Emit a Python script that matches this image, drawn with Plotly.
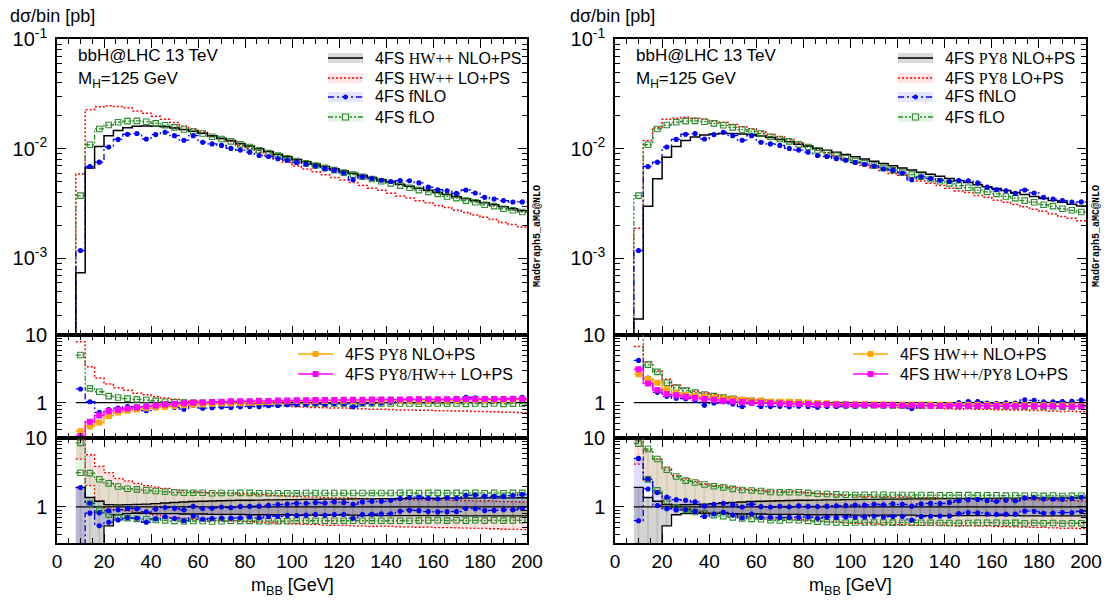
import math
import plotly.graph_objects as go

W, H = 1109, 601

# ---------------- data ----------------
bin_edges = list(range(8, 201, 4))          # 49 edges, 48 bins of 4 GeV
x_ticks = [0, 20, 40, 60, 80, 100, 120, 140, 160, 180, 200]

# d sigma / bin [pb]
hw_nlo = [7.4e-4, 6.7e-3, 1.05e-2, 1.32e-2, 1.47e-2, 1.56e-2, 1.61e-2, 1.62e-2, 1.61e-2, 1.59e-2,
          1.55e-2, 1.50e-2, 1.45e-2, 1.39e-2, 1.32e-2, 1.25e-2, 1.19e-2, 1.12e-2, 1.06e-2, 1.00e-2,
          9.46e-3, 8.95e-3, 8.47e-3, 8.00e-3, 7.62e-3, 7.26e-3, 6.92e-3, 6.59e-3, 6.28e-3, 6.00e-3,
          5.73e-3, 5.47e-3, 5.22e-3, 4.99e-3, 4.76e-3, 4.56e-3, 4.37e-3, 4.18e-3, 4.00e-3, 3.83e-3,
          3.66e-3, 3.51e-3, 3.36e-3, 3.22e-3, 3.09e-3, 2.96e-3, 2.84e-3, 2.73e-3]
hw_lo = [5.9e-3, 2.28e-2, 2.42e-2, 2.48e-2, 2.43e-2, 2.37e-2, 2.22e-2, 2.11e-2, 1.98e-2, 1.86e-2,
         1.74e-2, 1.62e-2, 1.52e-2, 1.42e-2, 1.32e-2, 1.24e-2, 1.17e-2, 1.08e-2, 1.01e-2, 9.3e-3,
         8.7e-3, 8.06e-3, 7.54e-3, 6.96e-3, 6.55e-3, 6.17e-3, 5.81e-3, 5.47e-3, 5.21e-3, 4.92e-3,
         4.64e-3, 4.38e-3, 4.18e-3, 3.94e-3, 3.71e-3, 3.56e-3, 3.36e-3, 3.22e-3, 3.04e-3, 2.91e-3,
         2.75e-3, 2.63e-3, 2.49e-3, 2.38e-3, 2.26e-3, 2.13e-3, 2.04e-3, 1.94e-3]
py_nlo = [2.8e-4, 2.99e-3, 5.33e-3, 8.4e-3, 1.05e-2, 1.19e-2, 1.28e-2, 1.34e-2, 1.37e-2, 1.38e-2,
          1.38e-2, 1.37e-2, 1.35e-2, 1.31e-2, 1.27e-2, 1.22e-2, 1.16e-2, 1.10e-2, 1.06e-2, 1.015e-2,
          9.7e-3, 9.3e-3, 8.9e-3, 8.47e-3, 8.07e-3, 7.69e-3, 7.34e-3, 7.02e-3, 6.70e-3, 6.40e-3,
          6.12e-3, 5.86e-3, 5.61e-3, 5.37e-3, 5.14e-3, 4.92e-3, 4.71e-3, 4.52e-3, 4.34e-3, 4.16e-3,
          3.99e-3, 3.83e-3, 3.67e-3, 3.52e-3, 3.38e-3, 3.25e-3, 3.13e-3, 3.01e-3]
py_lo = [1.89e-3, 1.19e-2, 1.57e-2, 1.86e-2, 1.90e-2, 1.94e-2, 1.89e-2, 1.86e-2, 1.80e-2, 1.75e-2,
         1.67e-2, 1.59e-2, 1.52e-2, 1.43e-2, 1.35e-2, 1.28e-2, 1.22e-2, 1.13e-2, 1.06e-2, 9.86e-3,
         9.22e-3, 8.62e-3, 8.07e-3, 7.52e-3, 7.07e-3, 6.73e-3, 6.33e-3, 5.96e-3, 5.73e-3, 5.41e-3,
         5.10e-3, 4.86e-3, 4.64e-3, 4.37e-3, 4.12e-3, 3.99e-3, 3.76e-3, 3.61e-3, 3.40e-3, 3.26e-3,
         3.11e-3, 2.97e-3, 2.81e-3, 2.69e-3, 2.55e-3, 2.41e-3, 2.33e-3, 2.21e-3]
fnlo = [1.18e-3, 6.9e-3, 7.56e-3, 1.04e-2, 1.22e-2, 1.36e-2, 1.38e-2, 1.23e-2, 1.35e-2, 1.42e-2,
        1.32e-2, 1.20e-2, 1.32e-2, 1.15e-2, 1.11e-2, 1.075e-2, 1.01e-2, 9.74e-3, 9.33e-3, 8.7e-3,
        8.51e-3, 8.14e-3, 7.88e-3, 7.52e-3, 7.24e-3, 6.97e-3, 6.57e-3, 6.39e-3, 6.03e-3, 5.22e-3,
        5.56e-3, 5.36e-3, 5.17e-3, 5.04e-3, 5.14e-3, 5.11e-3, 4.89e-3, 4.47e-3, 4.24e-3, 4.14e-3,
        3.92e-3, 4.21e-3, 3.96e-3, 3.61e-3, 3.49e-3, 3.37e-3, 3.27e-3, 3.28e-3]
flo = [3.74e-3, 1.09e-2, 1.52e-2, 1.65e-2, 1.75e-2, 1.79e-2, 1.80e-2, 1.77e-2, 1.71e-2, 1.64e-2,
       1.57e-2, 1.50e-2, 1.44e-2, 1.38e-2, 1.29e-2, 1.23e-2, 1.17e-2, 1.10e-2, 1.04e-2, 9.7e-3,
       9.18e-3, 8.68e-3, 8.22e-3, 7.76e-3, 7.39e-3, 7.04e-3, 6.71e-3, 6.39e-3, 6.09e-3, 5.82e-3,
       5.56e-3, 5.31e-3, 5.06e-3, 4.84e-3, 4.62e-3, 4.42e-3, 4.20e-3, 4.05e-3, 3.88e-3, 3.68e-3,
       3.55e-3, 3.37e-3, 3.26e-3, 3.09e-3, 3.00e-3, 2.84e-3, 2.75e-3, 2.65e-3]

# scale-variation envelopes (relative to each prediction's central value)
nlo_up = [1.92, 1.37, 1.21, 1.08, 1.07, 1.08, 1.09, 1.10, 1.12, 1.14,
          1.16, 1.18, 1.20, 1.21, 1.22, 1.23, 1.24, 1.25, 1.25, 1.26,
          1.27, 1.27, 1.28, 1.28, 1.29, 1.29, 1.30, 1.30, 1.30, 1.31,
          1.31, 1.31, 1.32, 1.32, 1.32, 1.33, 1.33, 1.33, 1.33, 1.34,
          1.34, 1.34, 1.34, 1.35, 1.35, 1.35, 1.35, 1.36]
nlo_dn = [0.20, 0.20, 0.22, 0.53, 0.77, 0.80, 0.81, 0.81, 0.80, 0.80,
          0.80, 0.79, 0.79, 0.79, 0.78, 0.78, 0.78, 0.78, 0.77, 0.77,
          0.77, 0.77, 0.77, 0.76, 0.76, 0.76, 0.76, 0.76, 0.76, 0.76,
          0.75, 0.75, 0.75, 0.75, 0.75, 0.75, 0.75, 0.75, 0.75, 0.75,
          0.75, 0.74, 0.74, 0.74, 0.74, 0.74, 0.74, 0.74]
lo_up = [1.70, 1.68, 1.68, 1.68, 1.57, 1.57, 1.59, 1.56, 1.58, 1.59,
         1.59, 1.60, 1.60, 1.60, 1.61, 1.61, 1.61, 1.61, 1.62, 1.62,
         1.62, 1.62, 1.62, 1.63, 1.63, 1.63, 1.63, 1.63, 1.63, 1.64,
         1.64, 1.64, 1.64, 1.64, 1.64, 1.64, 1.65, 1.65, 1.65, 1.65,
         1.65, 1.65, 1.65, 1.65, 1.66, 1.66, 1.66, 1.66]
lo_dn = [0.62, 0.60, 0.53, 0.49, 0.55, 0.58, 0.60, 0.61, 0.62, 0.62,
         0.63, 0.63, 0.63, 0.63, 0.64, 0.64, 0.64, 0.64, 0.64, 0.64,
         0.64, 0.65, 0.65, 0.65, 0.65, 0.65, 0.65, 0.65, 0.65, 0.65,
         0.65, 0.65, 0.66, 0.66, 0.66, 0.66, 0.66, 0.66, 0.66, 0.66,
         0.66, 0.66, 0.66, 0.66, 0.66, 0.66, 0.66, 0.66]
flo_up = [1.68, 1.90, 1.74, 1.76, 1.66, 1.60, 1.61, 1.60, 1.60, 1.61,
          1.61, 1.61, 1.62, 1.62, 1.62, 1.62, 1.62, 1.63, 1.63, 1.63,
          1.63, 1.63, 1.63, 1.63, 1.64, 1.64, 1.64, 1.64, 1.64, 1.64,
          1.64, 1.64, 1.64, 1.64, 1.65, 1.65, 1.65, 1.65, 1.65, 1.65,
          1.65, 1.65, 1.65, 1.65, 1.65, 1.65, 1.65, 1.65]
flo_dn = [0.62, 0.69, 0.61, 0.62, 0.59, 0.60, 0.60, 0.61, 0.61, 0.62,
          0.62, 0.62, 0.63, 0.63, 0.63, 0.63, 0.64, 0.64, 0.64, 0.64,
          0.64, 0.64, 0.64, 0.65, 0.65, 0.65, 0.65, 0.65, 0.65, 0.65,
          0.65, 0.65, 0.65, 0.65, 0.65, 0.65, 0.66, 0.66, 0.66, 0.66,
          0.66, 0.66, 0.66, 0.66, 0.66, 0.66, 0.66, 0.66]
fnlo_up = [1.20, 1.10, 1.14, 1.12, 1.10, 1.09, 1.10, 1.12, 1.11, 1.10,
           1.12, 1.14, 1.12, 1.15, 1.14, 1.16, 1.15, 1.17, 1.16, 1.18,
           1.17, 1.19, 1.18, 1.20, 1.19, 1.21, 1.20, 1.22, 1.21, 1.26,
           1.22, 1.23, 1.22, 1.24, 1.23, 1.22, 1.24, 1.25, 1.24, 1.26,
           1.25, 1.23, 1.26, 1.27, 1.26, 1.25, 1.27, 1.27]
fnlo_dn = [0.15, 0.79, 0.74, 0.76, 0.78, 0.80, 0.80, 0.79, 0.80, 0.81,
           0.80, 0.79, 0.81, 0.80, 0.81, 0.80, 0.81, 0.80, 0.81, 0.80,
           0.81, 0.80, 0.81, 0.80, 0.80, 0.81, 0.80, 0.80, 0.81, 0.79,
           0.80, 0.80, 0.80, 0.79, 0.80, 0.80, 0.79, 0.80, 0.80, 0.79,
           0.80, 0.79, 0.80, 0.79, 0.79, 0.80, 0.79, 0.79]

for arr in (hw_nlo, hw_lo, py_nlo, py_lo, fnlo, flo, nlo_up, nlo_dn, lo_up, lo_dn,
            flo_up, flo_dn, fnlo_up, fnlo_dn):
    assert len(arr) == len(bin_edges) - 1

# ---------------- style ----------------
SANS = "Liberation Sans"
SERIF = "Liberation Serif"
MONO = "Liberation Mono"
BLACK = "#000000"
RED = "#FF0000"
BLUE = "#0000FF"
GREEN = "#2A8C2A"
ORANGE = "#FFA500"
MAGENTA = "#FF00FF"
DOT = "2px,2px"
DASHDOT = "6px,3px,2px,3px"
DASHDOTDOT = "5px,2px,2px,2px,2px,2px"
FILL = {"nlo": "rgba(0,0,0,0.17)", "lo": "rgba(255,0,0,0.10)",
        "flo": "rgba(0,150,0,0.10)", "fnlo": "rgba(0,0,255,0.13)"}
HATCH = {"nlo": "rgba(90,90,90,0.35)", "lo": "rgba(170,110,90,0.30)"}

centers = [(a + b) / 2 for a, b in zip(bin_edges[:-1], bin_edges[1:])]


def px_x(x):
    return x / W


def px_y(y):
    return 1 - y / H


def serif(s):
    return '<span style="font-family:%s">%s</span>' % (SERIF, s)


def ratio(a, b):
    return [u / v for u, v in zip(a, b)]


def scaled(a, f, den):
    return [u * g / d for u, g, d in zip(a, f, den)]


def step(vals, from_bottom=False):
    xs = list(bin_edges[:-1]) + [bin_edges[-1]]
    ys = list(vals) + [vals[-1]]
    if from_bottom:
        xs = [bin_edges[0]] + xs
        ys = [1e-9] + ys
    return xs, ys


traces = []


def add_step(vals, ax, color, dash="solid", width=1.4, from_bottom=False, fill=None,
             fillcolor=None, hatch=None):
    xs, ys = step(vals, from_bottom)
    tr = dict(x=xs, y=ys, mode="lines", line=dict(color=color, dash=dash, width=width, shape="hv"),
              xaxis="x" + ax, yaxis="y" + ax, showlegend=False, hoverinfo="skip")
    if fill:
        tr["fill"] = fill
        tr["fillcolor"] = fillcolor
        if hatch:
            tr["fillpattern"] = dict(shape="|", size=9.4, solidity=0.1, fgcolor=hatch,
                                     bgcolor=fillcolor, fillmode="replace")
    traces.append(go.Scatter(**tr))


def add_markers(vals, ax, color, symbol, size):
    traces.append(go.Scatter(x=centers, y=vals, mode="markers",
                             marker=dict(color=color, symbol=symbol, size=size,
                                         line=dict(color=color, width=1.1)),
                             xaxis="x" + ax, yaxis="y" + ax, showlegend=False, hoverinfo="skip",
                             cliponaxis=True))


panels = [
    dict(nlo=hw_nlo, lo=hw_lo, o_nlo=py_nlo, o_lo=py_lo, x0=57, x1=527,
         gen="HW++", other="PY8", mix="PY8/HW++"),
    dict(nlo=py_nlo, lo=py_lo, o_nlo=hw_nlo, o_lo=hw_lo, x0=615, x1=1086,
         gen="PY8", other="HW++", mix="HW++/PY8"),
]

Y_MAIN = (39.3, 335)
Y_R1 = (335, 438)
Y_R2 = (438, 543)

layout_axes = {}
shapes = []
annotations = []

main_minor = [k * 10 ** e for e in (-4, -3, -2) for k in range(2, 10) if 2e-4 <= k * 10 ** e <= 0.1]
ratio_minor = [0.3, 0.4, 0.5, 0.6, 0.7, 0.8, 0.9, 2, 3, 4, 5, 6, 7, 8, 9]
xtickfont = dict(family=SANS, size=19, color=BLACK)
ytickfont = dict(family=SANS, size=20, color=BLACK)


def axname(kind, idx):
    return kind + ("" if idx == 1 else str(idx))


for p, P in enumerate(panels):
    xdom = [px_x(P["x0"]), px_x(P["x1"])]
    for k, (yr, kind) in enumerate([(Y_MAIN, "main"), (Y_R1, "r1"), (Y_R2, "r2")]):
        idx = p * 3 + k + 1
        sfx = "" if idx == 1 else str(idx)
        layout_axes[axname("xaxis", idx)] = dict(
            domain=xdom, anchor="y" + sfx, range=[0, 200], showline=True, linecolor=BLACK,
            linewidth=1.5, mirror="allticks", ticks="inside", ticklen=9, tickwidth=1,
            tickcolor=BLACK, tickmode="array", tickvals=x_ticks,
            ticktext=[str(v) for v in x_ticks], showticklabels=(kind == "r2"),
            showgrid=False, zeroline=False, tickfont=xtickfont, automargin=False,
            minor=dict(tickmode="array", tickvals=[v for v in range(0, 201, 5) if v % 20],
                       ticks="inside", ticklen=5, tickwidth=1, tickcolor=BLACK, showgrid=False))
        if kind == "main":
            yrng = [math.log10(2e-4), -1]
            tv = [1e-3, 1e-2, 1e-1]
            tt = ["10<sup>-3</sup>", "10<sup>-2</sup>", "10<sup>-1</sup>"]
            mv = main_minor
        else:
            yrng = [math.log10(0.3), 1]
            tv = [1, 10]
            tt = ["1", "10"]
            mv = ratio_minor
        layout_axes[axname("yaxis", idx)] = dict(
            domain=[px_y(yr[1]), px_y(yr[0])], anchor="x" + sfx, type="log", range=yrng,
            showline=True, linecolor=BLACK, linewidth=1.5, mirror="allticks", ticks="inside",
            ticklen=9, tickwidth=1, tickcolor=BLACK, tickmode="array", tickvals=tv, ticktext=tt,
            showgrid=False, zeroline=False, tickfont=ytickfont, ticklabelstandoff=4,
            automargin=False,
            minor=dict(tickmode="array", tickvals=mv, ticks="inside", ticklen=5, tickwidth=1,
                       tickcolor=BLACK, showgrid=False))

    a_main, a_r1, a_r2 = [str(p * 3 + k + 1) if p * 3 + k + 1 > 1 else "" for k in range(3)]
    nlo, lo = P["nlo"], P["lo"]

    # ---- main panel ----
    add_step(lo, a_main, RED, DOT, 1.5, True)
    add_step(flo, a_main, GREEN, DASHDOTDOT, 1.3, True)
    add_step(fnlo, a_main, BLUE, DASHDOT, 1.3, True)
    add_step(nlo, a_main, BLACK, "solid", 1.5, True)
    add_markers(flo, a_main, GREEN, "square-open", 5.5)
    add_markers(fnlo, a_main, BLUE, "circle", 4)

    # ---- ratio 1 ----
    add_step(ratio(nlo, nlo), a_r1, BLACK, "solid", 1.3)
    add_step(ratio(lo, nlo), a_r1, RED, DOT, 1.5)
    add_step(ratio(flo, nlo), a_r1, GREEN, DASHDOTDOT, 1.3)
    add_markers(ratio(flo, nlo), a_r1, GREEN, "square-open", 5.5)
    add_step(ratio(fnlo, nlo), a_r1, BLUE, DASHDOT, 1.3)
    add_markers(ratio(fnlo, nlo), a_r1, BLUE, "circle", 4)
    add_step(ratio(P["o_nlo"], nlo), a_r1, ORANGE, "solid", 1.4)
    add_markers(ratio(P["o_nlo"], nlo), a_r1, ORANGE, "square", 5)
    add_step(ratio(P["o_lo"], lo), a_r1, MAGENTA, "solid", 1.4)
    add_markers(ratio(P["o_lo"], lo), a_r1, MAGENTA, "square", 5)

    # ---- ratio 2 : scale bands ----
    bands = [
        ("lo", scaled(lo, lo_dn, nlo), scaled(lo, lo_up, nlo), RED, DOT, None),
        ("flo", scaled(flo, flo_dn, nlo), scaled(flo, flo_up, nlo), GREEN, DASHDOTDOT, "square-open"),
        ("fnlo", scaled(fnlo, fnlo_dn, nlo), scaled(fnlo, fnlo_up, nlo), BLUE, DASHDOT, "circle"),
        ("nlo", scaled(nlo, nlo_dn, nlo), scaled(nlo, nlo_up, nlo), BLACK, "solid", None),
    ]
    for key, dn, up, col, dash, sym in bands:
        add_step(dn, a_r2, col, dash, 1.3)
        add_step(up, a_r2, col, dash, 1.3, fill="tonexty", fillcolor=FILL[key],
                 hatch=HATCH.get(key))
    add_step(ratio(nlo, nlo), a_r2, BLACK, "solid", 1.2)
    for key, dn, up, col, dash, sym in bands:
        if sym:
            size = 5.5 if sym == "square-open" else 4
            add_markers(dn, a_r2, col, sym, size)
            add_markers(up, a_r2, col, sym, size)

    # ---- texts ----
    off = P["x0"] - 57
    annotations.append(dict(x=px_x(8 + (568 - 8) * p), y=px_y(16), xref="paper", yref="paper",
                            text="dσ/bin [pb]", showarrow=False, xanchor="left", yanchor="middle",
                            font=dict(family=SANS, size=18, color=BLACK)))
    annotations.append(dict(x=px_x(76 + off), y=px_y(55), xref="paper", yref="paper",
                            text="bbH@LHC 13 TeV", showarrow=False, xanchor="left", yanchor="middle",
                            font=dict(family=SANS, size=17, color=BLACK)))
    annotations.append(dict(x=px_x(76 + off), y=px_y(80), xref="paper", yref="paper",
                            text="M<sub>H</sub>=125 GeV", showarrow=False, xanchor="left",
                            yanchor="middle", font=dict(family=SANS, size=17, color=BLACK)))
    annotations.append(dict(x=px_x(P["x1"] + 10), y=px_y(236), xref="paper", yref="paper",
                            text="<b>MadGraph5_aMC@NLO</b>", showarrow=False, textangle=-90,
                            xanchor="center", yanchor="middle",
                            font=dict(family=MONO, size=10, color=BLACK)))
    annotations.append(dict(x=px_x((P["x0"] + P["x1"]) / 2), y=px_y(586), xref="paper",
                            yref="paper", text="m<sub>BB</sub> [GeV]", showarrow=False,
                            xanchor="center", yanchor="middle",
                            font=dict(family=SANS, size=18, color=BLACK)))

    # ---- legends (drawn) ----
    def legend_entry(sx, ty, text, color, dash, band, marker, w=35, lw=1.5):
        if band:
            shapes.append(dict(type="rect", xref="paper", yref="paper", x0=px_x(sx), x1=px_x(sx + w),
                               y0=px_y(ty + 5), y1=px_y(ty - 5), fillcolor=band, line=dict(width=0)))
        shapes.append(dict(type="line", xref="paper", yref="paper", x0=px_x(sx), x1=px_x(sx + w),
                           y0=px_y(ty), y1=px_y(ty), line=dict(color=color, dash=dash, width=lw)))
        cx = sx + w / 2
        if marker == "circle":
            shapes.append(dict(type="circle", xref="paper", yref="paper", x0=px_x(cx - 2),
                               x1=px_x(cx + 2), y0=px_y(ty + 2), y1=px_y(ty - 2),
                               fillcolor=color, line=dict(color=color, width=1)))
        elif marker == "square-open":
            shapes.append(dict(type="rect", xref="paper", yref="paper", x0=px_x(cx - 3),
                               x1=px_x(cx + 3), y0=px_y(ty + 3), y1=px_y(ty - 3),
                               fillcolor="white", line=dict(color=color, width=1.2)))
        elif marker == "square":
            shapes.append(dict(type="rect", xref="paper", yref="paper", x0=px_x(cx - 2.5),
                               x1=px_x(cx + 2.5), y0=px_y(ty + 2.5), y1=px_y(ty - 2.5),
                               fillcolor=color, line=dict(color=color, width=1)))
        annotations.append(dict(x=px_x(sx + w + 10), y=px_y(ty), xref="paper", yref="paper",
                                text=text, showarrow=False, xanchor="left", yanchor="middle",
                                font=dict(family=SANS, size=16, color=BLACK)))

    lx = 328 + off + (12 if p == 1 else 0)
    g = serif(P["gen"])
    legend_entry(lx, 58, "4FS %s NLO+PS" % g, "#333333", "solid", "rgba(0,0,0,0.15)", None, lw=2)
    legend_entry(lx, 78, "4FS %s LO+PS" % g, RED, DOT, "rgba(255,0,0,0.10)", None)
    legend_entry(lx, 97, "4FS fNLO", BLUE, DASHDOT, "rgba(0,0,255,0.10)", "circle")
    legend_entry(lx, 117, "4FS fLO", GREEN, DASHDOTDOT, "rgba(0,150,0,0.10)", "square-open")
    rx = 298 + off - 3 * p
    legend_entry(rx, 354, "4FS %s NLO+PS" % serif(P["other"]), ORANGE, "solid", None, "square")
    legend_entry(rx, 374, "4FS %s LO+PS" % serif(P["mix"]), MAGENTA, "solid", None, "square")

fig = go.Figure(data=traces)
fig.update_layout(width=W, height=H, margin=dict(l=0, r=0, t=0, b=0, pad=0), plot_bgcolor="white",
                  paper_bgcolor="white", showlegend=False, shapes=shapes, annotations=annotations,
                  font=dict(family=SANS, color=BLACK), **layout_axes)
fig.write_html("out.html", config={"displayModeBar": False},
               post_script="document.body.style.margin='0px';"
                           "document.body.style.overflow='hidden';")
